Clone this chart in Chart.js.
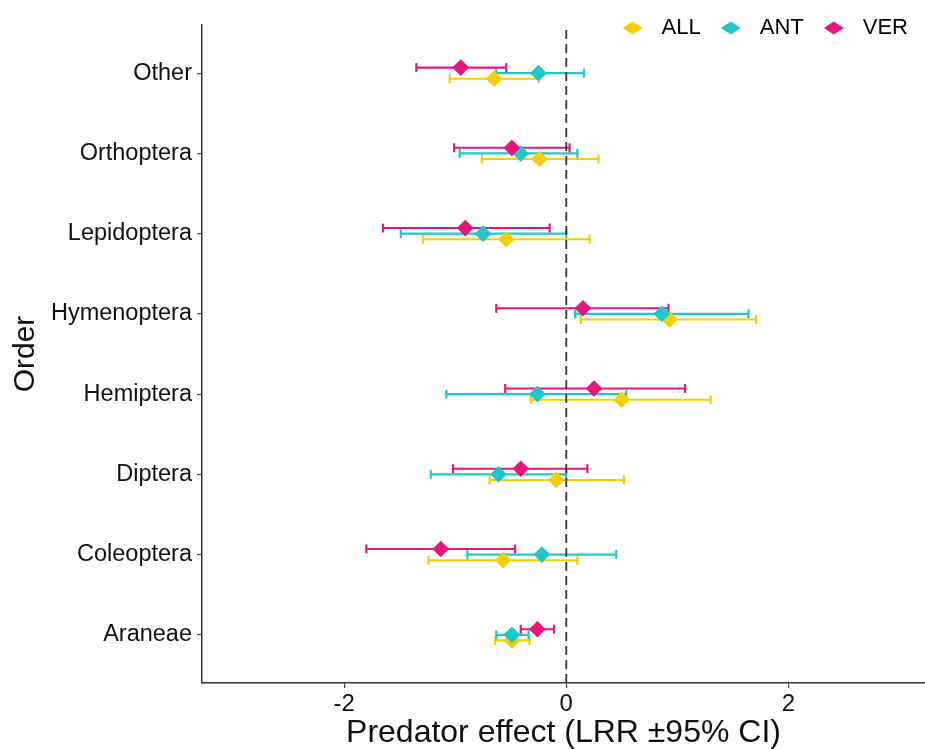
<!DOCTYPE html>
<html>
<head>
<meta charset="utf-8">
<title>Predator effect by order</title>
<script src="https://cdn.jsdelivr.net/npm/chart.js@4.4.1/dist/chart.umd.min.js"></script>
<style>
    body { margin: 0; background: #fff; }
    #wrap { width: 925px; height: 749px; }
</style>
</head>
<body>
<div id="wrap"><canvas id="effectChart" width="925" height="749"></canvas></div>
<script>
// arthropod orders, bottom to top
const orders = ['Araneae', 'Coleoptera', 'Diptera', 'Hemiptera', 'Hymenoptera', 'Lepidoptera', 'Orthoptera', 'Other'];

// log response ratio and 95% CI, all predators
const allEst  = [-0.49, -0.57, -0.09,  0.50, 0.93, -0.54, -0.24, -0.65];
const allLow  = [-0.64, -1.24, -0.69, -0.32, 0.13, -1.29, -0.76, -1.05];
const allHigh = [-0.33,  0.10,  0.52,  1.30, 1.71,  0.21,  0.29, -0.25];

// ants
const antEst  = [-0.49, -0.22, -0.61, -0.26, 0.86, -0.75, -0.41, -0.25];
const antLow  = [-0.63, -0.89, -1.22, -1.08, 0.08, -1.49, -0.96, -0.63];
const antHigh = [-0.34,  0.45,  0.00,  0.54, 1.64,  0.00,  0.10,  0.16];

// vertebrates
const verEst  = [-0.26, -1.13, -0.41,  0.25,  0.15, -0.91, -0.49, -0.95];
const verLow  = [-0.41, -1.80, -1.02, -0.55, -0.63, -1.65, -1.01, -1.35];
const verHigh = [-0.11, -0.46,  0.19,  1.07,  0.92, -0.15,  0.03, -0.54];

const groupNames = ['ALL', 'ANT', 'VER'];
const xTicks = [-2, 0, 2];

const colors = { ALL: '#F5CF05', ANT: '#1FC8CA', VER: '#E5167E' };
const dodge = { ALL: -0.07, ANT: 0, VER: 0.07 };
const Y_MIN = 0.4, Y_MAX = 8.6;

Chart.defaults.font.family = "'Liberation Sans', Arial, sans-serif";

const groups = [
    { name: 'ALL', est: allEst, low: allLow, high: allHigh },
    { name: 'ANT', est: antEst, low: antLow, high: antHigh },
    { name: 'VER', est: verEst, low: verLow, high: verHigh }
];

// flat diamond used as legend key
function diamondIcon(color) {
    const c = document.createElement('canvas');
    c.width = 31;
    c.height = 14;
    const g = c.getContext('2d');
    g.fillStyle = color;
    g.beginPath();
    g.moveTo(3, 7);
    g.lineTo(13, 0.5);
    g.lineTo(23, 7);
    g.lineTo(13, 13.5);
    g.closePath();
    g.fill();
    return c;
}

function whiskerData(grp) {
    const pts = [];
    orders.forEach((o, i) => {
        const y = i + 1 + dodge[grp.name];
        pts.push({ x: grp.low[i], y: y });
        pts.push({ x: grp.high[i], y: y });
        pts.push({ x: grp.high[i], y: null }); // break between orders
    });
    return pts;
}

function pointData(grp) {
    return orders.map((o, i) => ({ x: grp.est[i], y: i + 1 + dodge[grp.name] }));
}

const datasets = [];
groups.forEach((grp, k) => {
    datasets.push({
        type: 'line',
        label: grp.name + ' CI',
        data: whiskerData(grp),
        borderColor: colors[grp.name],
        borderWidth: 2.2,
        spanGaps: false,
        fill: false,
        pointStyle: 'line',
        rotation: 90,
        pointRadius: 4.5,
        pointBorderWidth: 2.2,
        pointBorderColor: colors[grp.name],
        order: 22 - k
    });
});

// dashed reference at zero effect
datasets.push({
    type: 'line',
    label: 'zero',
    data: [{ x: 0, y: Y_MIN }, { x: 0, y: Y_MAX }],
    borderColor: '#333',
    borderWidth: 1.8,
    borderDash: [9, 5],
    pointRadius: 0,
    fill: false,
    order: 15
});

groups.forEach((grp, k) => {
    datasets.push({
        type: 'scatter',
        label: grp.name,
        data: pointData(grp),
        pointStyle: 'rectRot',
        pointRadius: 7.3,
        backgroundColor: colors[grp.name],
        borderColor: colors[grp.name],
        borderWidth: 1.5,
        order: 12 - k
    });
});

// the legend sits over the top of the plot panel, so let it draw past its layout box
const legendOverhang = {
    id: 'legendOverhang',
    afterLayout(chart) {
        if (chart.legend) {
            chart.legend.bottom = chart.legend.top + 50;
        }
    }
};

const ctx = document.getElementById('effectChart').getContext('2d');
new Chart(ctx, {
    type: 'scatter',
    data: { datasets: datasets },
    plugins: [legendOverhang],
    options: {
        responsive: false,
        animation: false,
        layout: { padding: 0, autoPadding: false },
        plugins: {
            tooltip: { enabled: false },
            legend: {
                position: 'top',
                align: 'end',
                maxHeight: 25,
                labels: {
                    usePointStyle: true,
                    pointStyleWidth: 31,
                    padding: 17,
                    color: '#111',
                    font: { size: 22 },
                    generateLabels: function () {
                        return groupNames.map(n => ({
                            text: n,
                            pointStyle: diamondIcon(colors[n]),
                            fillStyle: colors[n],
                            strokeStyle: colors[n],
                            lineWidth: 0,
                            hidden: false
                        }));
                    }
                }
            }
        },
        scales: {
            x: {
                type: 'linear',
                position: 'bottom',
                min: -3.28,
                max: 3.23,
                afterFit: function (scale) { scale.height = 66; },
                afterBuildTicks: function (scale) {
                    scale.ticks = xTicks.map(v => ({ value: v }));
                },
                grid: { drawOnChartArea: false, drawTicks: true, tickLength: 5, color: '#444', lineWidth: 1.2 },
                border: { color: '#333', width: 1.5 },
                ticks: {
                    color: '#111',
                    font: { size: 24 },
                    padding: 2,
                    maxRotation: 0,
                    callback: v => String(v)
                },
                title: {
                    display: true,
                    text: 'Predator effect (LRR \u00B195% CI)',
                    color: '#111',
                    font: { size: 32, lineHeight: 1 },
                    padding: 0
                }
            },
            y: {
                type: 'linear',
                min: Y_MIN,
                max: Y_MAX,
                afterFit: function (scale) { scale.width = 202; },
                afterBuildTicks: function (scale) {
                    scale.ticks = orders.map((o, i) => ({ value: i + 1 }));
                },
                grid: { drawOnChartArea: false, drawTicks: true, tickLength: 5, color: '#444', lineWidth: 1.2 },
                border: { color: '#333', width: 1.5 },
                ticks: {
                    color: '#111',
                    font: { size: 23.5 },
                    padding: 5,
                    callback: v => orders[v - 1]
                },
                title: {
                    display: true,
                    text: 'Order',
                    color: '#111',
                    font: { size: 30, lineHeight: 1 },
                    padding: { top: 11, bottom: 0 }
                }
            }
        }
    }
});
</script>
</body>
</html>
